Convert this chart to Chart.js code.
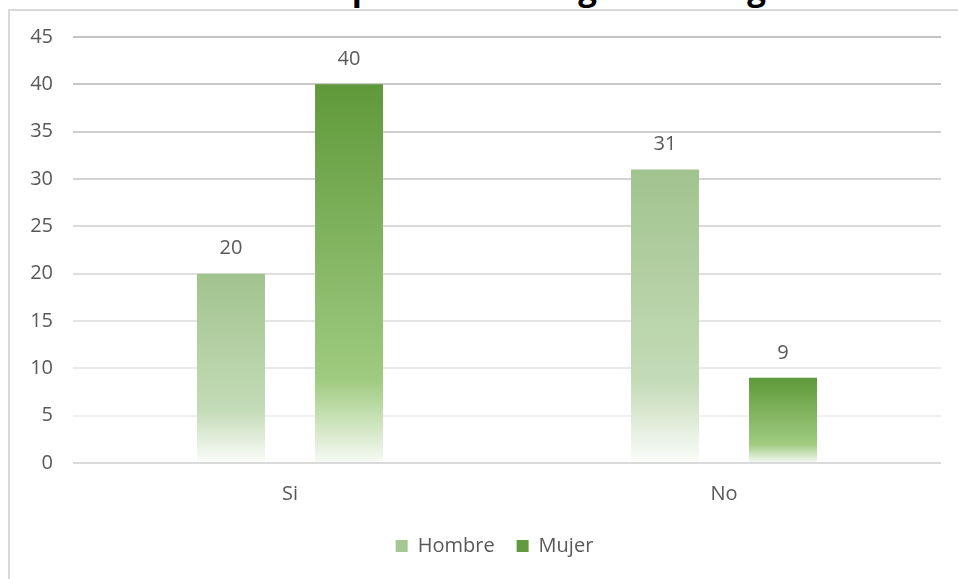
<!DOCTYPE html>
<html>
<head>
<meta charset="utf-8">
<script src="https://cdn.jsdelivr.net/npm/chart.js@4/dist/chart.umd.min.js"></script>
<style>
    html, body { margin: 0; padding: 0; background: #ffffff; overflow: hidden; }
    #wrap { position: relative; width: 958px; height: 579px; overflow: hidden; }
    #frame {
        position: absolute; left: 8px; top: 9px; width: 980px; height: 620px;
        border: 2px solid #d9d9d9; box-sizing: border-box;
    }
    #title {
        position: absolute; left: 3px; width: 958px; top: -29px; text-align: center;
        font: bold 33px "Open Sans", sans-serif; line-height: 33px; color: #000000;
        white-space: nowrap;
    }
    #chart { position: absolute; left: 0; top: 0; }
</style>
</head>
<body>
<div id="wrap">
    <div id="frame"></div>
    <div id="title">Uso de anticonceptivos a nivel general según sexo</div>
    <canvas id="chart" width="958" height="579"></canvas>
</div>
<script>
const categories = ['Si', 'No'];
const hombreValues = [20, 31];
const mujerValues = [40, 9];
const yTicks = [0, 5, 10, 15, 20, 25, 30, 35, 40, 45];

const textColor = '#595959';
const fontFamily = '"Open Sans", sans-serif';
const legendColors = ['#a5c794', '#619b3d'];

// gradient along each bar, from its top down to the zero line
function barGradient(stops) {
    return function(context) {
        const chart = context.chart;
        if (!chart.chartArea || context.type !== 'data') return stops[0][1];
        const y = chart.scales.y;
        const top = y.getPixelForValue(context.raw);
        const bottom = y.getPixelForValue(0);
        const g = chart.ctx.createLinearGradient(0, top, 0, bottom);
        stops.forEach(s => g.addColorStop(s[0], s[1]));
        return g;
    };
}

// values above the bars
const valueLabels = {
    id: 'valueLabels',
    afterDatasetsDraw(chart) {
        const ctx = chart.ctx;
        ctx.save();
        ctx.font = '20px ' + fontFamily;
        ctx.fillStyle = textColor;
        ctx.textAlign = 'center';
        ctx.textBaseline = 'middle';
        chart.data.datasets.forEach((ds, i) => {
            chart.getDatasetMeta(i).data.forEach((bar, j) => {
                ctx.fillText(ds.data[j], bar.x, bar.y - 25);
            });
        });
        ctx.restore();
    }
};

// the legend sits a bit right of the canvas centre
const legendShift = {
    id: 'legendShift',
    afterLayout(chart) {
        chart.legend.left += 24;
        chart.legend.right += 24;
    }
};

function gridColor(context) {
    const v = context.tick ? context.tick.value : 0;
    if (v === 0) return 'rgb(218,218,218)';
    const c = Math.round(195 + (45 - v) / 40 * 45);
    return 'rgb(' + c + ',' + c + ',' + c + ')';
}

new Chart(document.getElementById('chart'), {
    type: 'bar',
    data: {
        labels: categories,
        datasets: [
            {
                label: 'Hombre',
                data: hombreValues,
                backgroundColor: barGradient([[0, '#a1c38e'], [0.72, '#c4dbb7'], [1, '#fbfcfa']]),
                borderWidth: 0
            },
            {
                label: 'Mujer',
                data: mujerValues,
                backgroundColor: barGradient([[0, '#5f993a'], [0.78, '#9fcb80'], [1, '#f7faf5']]),
                borderWidth: 0
            }
        ]
    },
    options: {
        responsive: false,
        animation: false,
        categoryPercentage: 0.544,
        barPercentage: 0.576,
        layout: {
            padding: { left: 0, right: 17, top: 37, bottom: 13 }
        },
        plugins: {
            title: { display: false },
            tooltip: { enabled: false },
            legend: {
                display: true,
                position: 'bottom',
                labels: {
                    color: textColor,
                    font: { family: fontFamily, size: 20 },
                    boxWidth: 12,
                    boxHeight: 12,
                    padding: 22,
                    generateLabels: chart => chart.data.datasets.map((ds, i) => ({
                        text: ds.label,
                        fillStyle: legendColors[i],
                        strokeStyle: legendColors[i],
                        lineWidth: 0,
                        fontColor: textColor,
                        hidden: false,
                        datasetIndex: i
                    }))
                }
            }
        },
        scales: {
            x: {
                grid: { display: false, drawTicks: false },
                border: { display: false },
                afterFit: scale => { scale.height -= 11; },
                ticks: {
                    color: textColor,
                    font: { family: fontFamily, size: 20 },
                    padding: 19
                }
            },
            y: {
                min: 0,
                max: 45,
                afterBuildTicks: scale => {
                    scale.ticks = yTicks.map(v => ({ value: v }));
                },
                afterFit: scale => { scale.width = 73; },
                grid: { color: gridColor, lineWidth: 2, drawTicks: false },
                border: { display: false },
                ticks: {
                    color: textColor,
                    font: { family: fontFamily, size: 20 },
                    padding: 20
                }
            }
        }
    },
    plugins: [valueLabels, legendShift]
});
</script>
</body>
</html>
